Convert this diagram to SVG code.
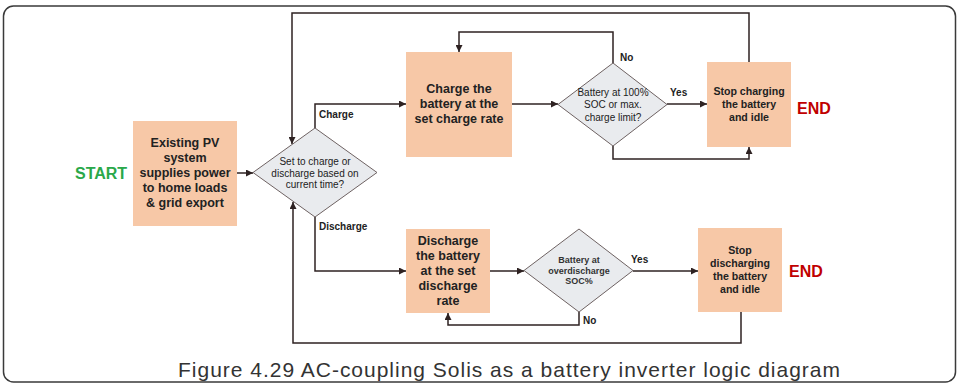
<svg xmlns="http://www.w3.org/2000/svg" width="960" height="385" viewBox="0 0 960 385">
<style>
.frame{fill:#fff;stroke:#3a3a3a;stroke-width:1.5}
.box{fill:#f7c8a7;stroke:none}
.dia{fill:#e9ebee;stroke:#6e6262;stroke-width:1}
.bt{font-family:"Liberation Sans",Arial,sans-serif;font-weight:bold;font-size:12.5px;fill:#222;text-anchor:middle}
.st{font-family:"Liberation Sans",Arial,sans-serif;font-weight:bold;font-size:10.6px;fill:#222;text-anchor:middle}
.dt{font-family:"Liberation Sans",Arial,sans-serif;font-size:10px;fill:#222;text-anchor:middle}
.dt2{font-family:"Liberation Sans",Arial,sans-serif;font-weight:bold;font-size:9px;fill:#333;text-anchor:middle}
.lbl{font-family:"Liberation Sans",Arial,sans-serif;font-weight:bold;font-size:10px;fill:#222}
.start{font-family:"Liberation Sans",Arial,sans-serif;font-weight:bold;font-size:16px;fill:#2aa84a}
.end{font-family:"Liberation Sans",Arial,sans-serif;font-weight:bold;font-size:16px;fill:#c00000}
.cap{font-family:"Liberation Sans",Arial,sans-serif;font-size:21px;fill:#333}
.con{fill:none;stroke:#2e2222;stroke-width:1.5}
</style>
<defs>
<marker id="ah" viewBox="0 0 10 10" refX="10" refY="5" markerWidth="7" markerHeight="7" orient="auto" markerUnits="userSpaceOnUse">
<path d="M0,0 L10,5 L0,10 z" fill="#2e2222"/>
</marker>
</defs>
<rect class="frame" x="3.5" y="6" width="952" height="376" rx="10"/>

<g id="connectors">
<path class="con" d="M237,173 H253" marker-end="url(#ah)"/>
<path class="con" d="M315,128 V104 H406" marker-end="url(#ah)"/>
<path class="con" d="M315,217 V271 H406" marker-end="url(#ah)"/>
<path class="con" d="M512,104 H558" marker-end="url(#ah)"/>
<path class="con" d="M613,63 V32 H459 V52" marker-end="url(#ah)"/>
<path class="con" d="M667,104 H707" marker-end="url(#ah)"/>
<path class="con" d="M613,146 V159 H749 V147" marker-end="url(#ah)"/>
<path class="con" d="M749,62 V13 H292 V144" marker-end="url(#ah)"/>
<path class="con" d="M490,271 H524" marker-end="url(#ah)"/>
<path class="con" d="M633,271 H698" marker-end="url(#ah)"/>
<path class="con" d="M579,312 V325 H448 V313" marker-end="url(#ah)"/>
<path class="con" d="M741,312 V343 H293 V202" marker-end="url(#ah)"/>
<text class="lbl" x="319" y="118">Charge</text>
<text class="lbl" x="319" y="230">Discharge</text>
<text class="lbl" x="620" y="61">No</text>
<text class="lbl" x="670" y="96">Yes</text>
<text class="lbl" x="631" y="263">Yes</text>
<text class="lbl" x="583" y="324">No</text>
</g>

<g id="start"><text class="start" x="75" y="179">START</text></g>

<g id="pv">
<rect class="box" x="133" y="121" width="104" height="105"/>
<text class="bt" x="185" y="147">Existing PV</text>
<text class="bt" x="185" y="162">system</text>
<text class="bt" x="185" y="177">supplies power</text>
<text class="bt" x="185" y="192">to home loads</text>
<text class="bt" x="185" y="207">&amp; grid export</text>
</g>

<g id="decide">
<polygon class="dia" points="315,128 377,172.5 315,217 253,172.5"/>
<text class="dt" x="315" y="165">Set to charge or</text>
<text class="dt" x="315" y="177">discharge based on</text>
<text class="dt" x="315" y="188">current time?</text>
</g>

<g id="charge">
<rect class="box" x="406" y="52" width="106" height="105"/>
<text class="bt" x="459" y="93">Charge the</text>
<text class="bt" x="459" y="108">battery at the</text>
<text class="bt" x="459" y="123">set charge rate</text>
</g>

<g id="full">
<polygon class="dia" points="613,63 667,104.5 613,146 558,104.5"/>
<text class="dt" x="613" y="96">Battery at 100%</text>
<text class="dt" x="613" y="108">SOC or max.</text>
<text class="dt" x="613" y="121">charge limit?</text>
</g>

<g id="stopcharge">
<rect class="box" x="707" y="62" width="84" height="85"/>
<text class="st" x="749" y="95">Stop charging</text>
<text class="st" x="749" y="108">the battery</text>
<text class="st" x="749" y="121">and idle</text>
</g>
<g id="end1"><text class="end" x="797" y="114">END</text></g>

<g id="discharge">
<rect class="box" x="406" y="229" width="84" height="84"/>
<text class="bt" x="448" y="245">Discharge</text>
<text class="bt" x="448" y="260">the battery</text>
<text class="bt" x="448" y="275">at the set</text>
<text class="bt" x="448" y="290">discharge</text>
<text class="bt" x="448" y="305">rate</text>
</g>

<g id="overdis">
<polygon class="dia" points="579,229 633,270.5 579,312 524,270.5"/>
<text class="dt2" x="579" y="263">Battery at</text>
<text class="dt2" x="579" y="274">overdischarge</text>
<text class="dt2" x="579" y="284">SOC%</text>
</g>

<g id="stopdis">
<rect class="box" x="698" y="228" width="84" height="84"/>
<text class="st" x="740" y="254">Stop</text>
<text class="st" x="740" y="267">discharging</text>
<text class="st" x="740" y="280">the battery</text>
<text class="st" x="740" y="293">and idle</text>
</g>
<g id="end2"><text class="end" x="789" y="277">END</text></g>

<text class="cap" x="178" y="377" textLength="662" lengthAdjust="spacing">Figure 4.29 AC-coupling Solis as a battery inverter logic diagram</text>
</svg>
